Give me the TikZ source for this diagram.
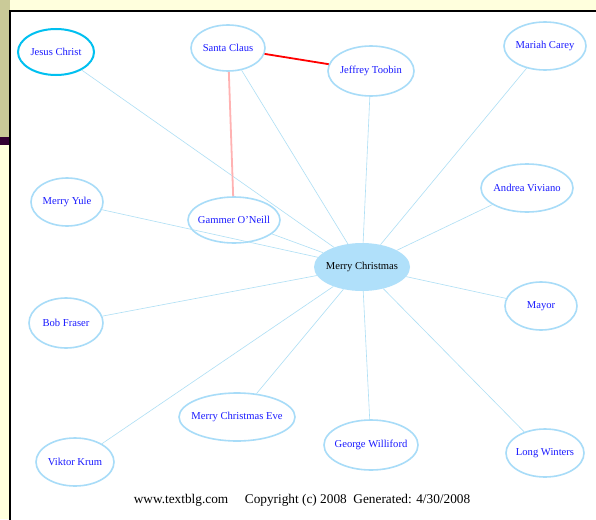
\documentclass[tikz,border=0pt]{standalone}
\usepackage{fontspec}
\setmainfont{Liberation Serif}
\usetikzlibrary{shapes.geometric}

\definecolor{olive}{HTML}{CACA98}
\definecolor{plum}{HTML}{330033}
\definecolor{cream}{HTML}{FFFFDD}
\definecolor{ringblue}{HTML}{A8DCF8}
\definecolor{edgeblue}{HTML}{AEDFF5}
\definecolor{hubblue}{HTML}{B0E0FA}
\definecolor{textblue}{HTML}{1A1AFF}
\definecolor{skyring}{HTML}{00C0F0}

\tikzset{
  person/.style = {ellipse, draw = ringblue, line width = 1.6pt, fill = white,
    inner sep = 0pt, label = {[font = \fontsize{10.6}{12}\selectfont,
      text = textblue]center:#1}},
  hub/.style = {ellipse, fill = hubblue, inner sep = 0pt,
    label = {[font = \fontsize{10.6}{12}\selectfont]center:#1}},
  link/.style = {draw = edgeblue, line width = .6pt}
}

\begin{document}
\begin{tikzpicture}[x = 1pt, y = -1pt]
  % page behind the chart
  \useasboundingbox (0, 0) rectangle (596, 519);
  \fill[cream] (0, 0) rectangle (596, 519);
  \fill[olive] (0, 0) rectangle (10, 137);
  \fill[plum] (0, 137) rectangle (9, 145);
  \fill[white] (10, 11) rectangle (598, 521);
  \draw[line width = 1.5pt] (10, 521) -- (10, 11) -- (598, 11);

  \node[hub = {Merry Christmas}, minimum width = 96, minimum height = 48]
  (xmas) at (362, 267) {};

  \node[person = {Jesus Christ}, draw = skyring, line width = 2pt,
  minimum width = 76, minimum height = 46] (jesus) at (56, 52) {};
  \node[person = {Santa Claus}, minimum width = 74, minimum height = 46]
  (santa) at (228, 48) {};
  \node[person = {Jeffrey Toobin}, minimum width = 86, minimum height = 50]
  (jeffrey) at (371, 71) {};
  \node[person = {Mariah Carey}, minimum width = 82, minimum height = 48]
  (mariah) at (545, 46) {};
  \node[person = {Merry Yule}, minimum width = 72, minimum height = 48]
  (yule) at (67, 202) {};
  \node[person = {Gammer O'Neill}, minimum width = 92, minimum height = 46]
  (gammer) at (234, 220) {};
  \node[person = {Andrea Viviano}, minimum width = 92, minimum height = 48]
  (andrea) at (527, 188) {};
  \node[person = {Bob Fraser}, minimum width = 74, minimum height = 50]
  (bob) at (66, 323) {};
  \node[person = {Mayor}, minimum width = 72, minimum height = 48]
  (mayor) at (541, 306) {};
  \node[person = {Merry Christmas Eve}, minimum width = 116,
  minimum height = 48] (eve) at (237, 417) {};
  \node[person = {George Williford}, minimum width = 94, minimum height = 50]
  (george) at (371, 445) {};
  \node[person = {Viktor Krum}, minimum width = 78, minimum height = 48]
  (viktor) at (75, 462) {};
  \node[person = {Long Winters}, minimum width = 78, minimum height = 48]
  (winters) at (545, 453) {};

  \foreach \who in {jesus, santa, jeffrey, mariah, yule, gammer, andrea, bob,
    mayor, eve, george, viktor, winters}
  \draw[link] (xmas) -- (\who);

  \draw[red, line width = 1.8pt] (santa) -- (jeffrey);
  \draw[red!30, line width = 1.8pt] (santa) -- (gammer);

  \node[font = \fontsize{13.3}{14}\selectfont] (footer) at (302, 500)
  {www.textblg.com\quad\ Copyright (c) 2008\ \ Generated: 4/30/2008};
\end{tikzpicture}
\end{document}
